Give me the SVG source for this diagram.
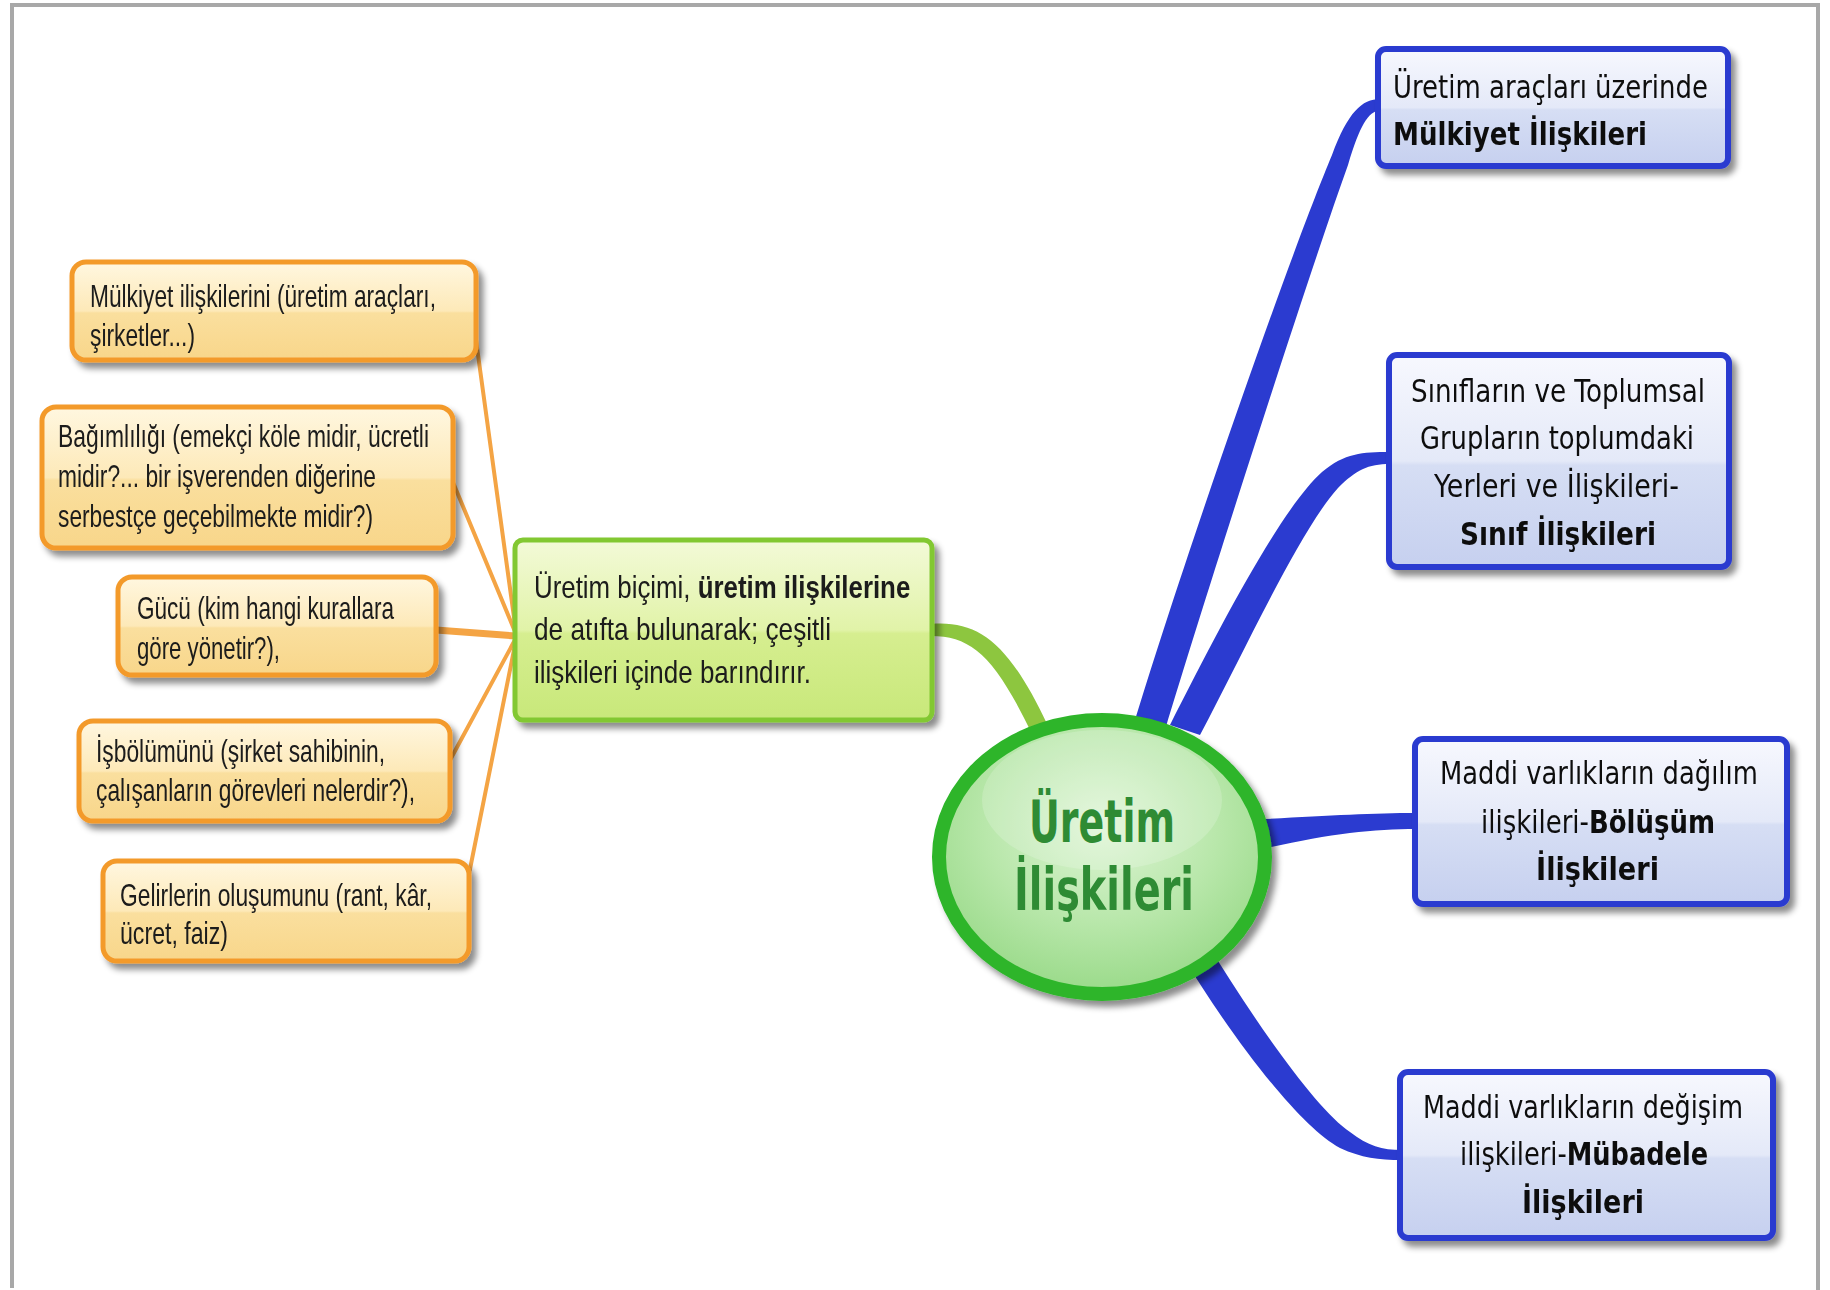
<svg xmlns="http://www.w3.org/2000/svg" width="1830" height="1290" viewBox="0 0 1830 1290">
<defs>
<linearGradient id="gOr" x1="0" y1="0" x2="0" y2="1">
<stop offset="0" stop-color="#FFF7E0"/><stop offset="0.5" stop-color="#FDE9B8"/><stop offset="0.52" stop-color="#FADF9E"/><stop offset="1" stop-color="#F8D68A"/>
</linearGradient>
<linearGradient id="gGr" x1="0" y1="0" x2="0" y2="1">
<stop offset="0" stop-color="#F3FAD8"/><stop offset="0.5" stop-color="#E1F3A8"/><stop offset="0.52" stop-color="#D6EE90"/><stop offset="1" stop-color="#C8E87A"/>
</linearGradient>
<linearGradient id="gBl" x1="0" y1="0" x2="0" y2="1">
<stop offset="0" stop-color="#F7F8FE"/><stop offset="0.5" stop-color="#E4E9F8"/><stop offset="0.52" stop-color="#D6DEF4"/><stop offset="1" stop-color="#C6D0EF"/>
</linearGradient>
<radialGradient id="gEl" cx="0.5" cy="0.38" r="0.6">
<stop offset="0" stop-color="#DFF5D6"/><stop offset="0.6" stop-color="#B8E7AA"/><stop offset="1" stop-color="#9CDB8C"/>
</radialGradient>
<filter id="sh" x="-10%" y="-10%" width="125%" height="130%">
<feDropShadow dx="5" dy="6" stdDeviation="3" flood-color="#000" flood-opacity="0.45"/>
</filter>
<style>
.or{fill:url(#gOr);stroke:#F39A2C;stroke-width:5}
.gr{fill:url(#gGr);stroke:#82C832;stroke-width:5}
.bl{fill:url(#gBl);stroke:#2B3BD0;stroke-width:6}
.to{font-family:"Liberation Sans",Arial,sans-serif;font-size:32px;fill:#1a1a1a}
.tb{font-family:"DejaVu Sans",Verdana,sans-serif;font-size:32px;fill:#111}
.b{font-weight:bold}
.ol{fill:none;stroke:#F4A444;stroke-linecap:round}
.bb{fill:#2B3BD0}
</style>
</defs>
<rect width="1830" height="1290" fill="#fff"/>
<g id="frame" stroke="#A8A8A8" stroke-width="4" fill="none">
<line x1="10" y1="5" x2="1820" y2="5"/>
<line x1="12" y1="5" x2="12" y2="1288"/>
<line x1="1818" y1="5" x2="1818" y2="1290"/>
</g>
<g id="connectors">
<line class="ol" stroke-width="4" x1="476" y1="340" x2="516" y2="632"/>
<line class="ol" stroke-width="4" x1="452" y1="480" x2="516" y2="634"/>
<line class="ol" stroke-width="7" x1="436" y1="630" x2="516" y2="636"/>
<line class="ol" stroke-width="4" x1="449" y1="762" x2="516" y2="638"/>
<line class="ol" stroke-width="4" x1="467" y1="884" x2="516" y2="640"/>
<path fill="#8DC63F" d="M931 624 C980 620 1010 645 1048 726 L1032 734 C995 657 972 636 931 636 Z"/>
<path class="bb" d="M1132 730 C1185 555 1290 255 1332 155 C1348 112 1362 99 1380 99 L1380 110 C1368 112 1360 125 1348 165 C1312 265 1215 565 1165 730 Z"/>
<path class="bb" d="M1170 725 C1218 630 1280 510 1322 472 C1345 453 1362 452 1390 452 L1390 464 C1368 464 1356 470 1338 488 C1300 530 1245 650 1200 735 Z"/>
<path class="bb" d="M1250 820 C1320 816 1370 813 1416 813 L1416 829 C1370 829 1320 835 1250 852 Z"/>
<path class="bb" d="M1207 943 C1262 1033 1318 1110 1350 1132 C1368 1146 1382 1150 1402 1150 L1402 1160 C1378 1160 1362 1158 1340 1148 C1302 1128 1238 1047 1183 957 Z"/>
</g>
<g id="center">
<ellipse cx="1102" cy="857" rx="163" ry="137" fill="url(#gEl)" stroke="#2DB52A" stroke-width="14" filter="url(#sh)"/>
<ellipse cx="1102" cy="800" rx="120" ry="70" fill="#fff" opacity="0.18"/>
<text x="1029" y="842" font-family="DejaVu Sans,Verdana,sans-serif" font-weight="bold" font-size="58" fill="#2E8B34" textLength="146" lengthAdjust="spacingAndGlyphs">Üretim</text>
<text x="1014" y="910" font-family="DejaVu Sans,Verdana,sans-serif" font-weight="bold" font-size="58" fill="#2E8B34" textLength="180" lengthAdjust="spacingAndGlyphs">İlişkileri</text>
</g>
<g id="o1" filter="url(#sh)">
<rect class="or" x="72" y="262" width="404" height="98" rx="14"/>
<text class="to" x="90" y="307" textLength="346" lengthAdjust="spacingAndGlyphs">Mülkiyet ilişkilerini (üretim araçları,</text>
<text class="to" x="90" y="346" textLength="105" lengthAdjust="spacingAndGlyphs">şirketler...)</text>
</g>
<g id="o2" filter="url(#sh)">
<rect class="or" x="42" y="407" width="411" height="141" rx="14"/>
<text class="to" x="58" y="447" textLength="371" lengthAdjust="spacingAndGlyphs">Bağımlılığı (emekçi köle midir, ücretli</text>
<text class="to" x="58" y="487" textLength="318" lengthAdjust="spacingAndGlyphs">midir?... bir işverenden diğerine</text>
<text class="to" x="58" y="527" textLength="315" lengthAdjust="spacingAndGlyphs">serbestçe geçebilmekte midir?)</text>
</g>
<g id="o3" filter="url(#sh)">
<rect class="or" x="118" y="577" width="318" height="98" rx="14"/>
<text class="to" x="137" y="619" textLength="257" lengthAdjust="spacingAndGlyphs">Gücü (kim hangi kurallara</text>
<text class="to" x="137" y="659" textLength="143" lengthAdjust="spacingAndGlyphs">göre yönetir?),</text>
</g>
<g id="o4" filter="url(#sh)">
<rect class="or" x="79" y="721" width="371" height="100" rx="14"/>
<text class="to" x="96" y="762" textLength="289" lengthAdjust="spacingAndGlyphs">İşbölümünü (şirket sahibinin,</text>
<text class="to" x="96" y="801" textLength="319" lengthAdjust="spacingAndGlyphs">çalışanların görevleri nelerdir?),</text>
</g>
<g id="o5" filter="url(#sh)">
<rect class="or" x="103" y="861" width="366" height="100" rx="14"/>
<text class="to" x="120" y="906" textLength="312" lengthAdjust="spacingAndGlyphs">Gelirlerin oluşumunu (rant, kâr,</text>
<text class="to" x="120" y="944" textLength="108" lengthAdjust="spacingAndGlyphs">ücret, faiz)</text>
</g>
<g id="green" filter="url(#sh)">
<rect class="gr" x="515" y="540" width="417" height="180" rx="8"/>
<text class="to" transform="translate(534,598) scale(0.808,1)" font-size="33">Üretim biçimi, <tspan class="b">üretim ilişkilerine</tspan></text>
<text class="to" x="534" y="640" font-size="33" textLength="297" lengthAdjust="spacingAndGlyphs">de atıfta bulunarak; çeşitli</text>
<text class="to" x="534" y="683" font-size="33" textLength="277" lengthAdjust="spacingAndGlyphs">ilişkileri içinde barındırır.</text>
</g>
<g id="b1" filter="url(#sh)">
<rect class="bl" x="1378" y="49" width="350" height="117" rx="8"/>
<text class="tb" x="1393" y="98" textLength="315" lengthAdjust="spacingAndGlyphs">Üretim araçları üzerinde</text>
<text class="tb b" x="1393" y="145" textLength="254" lengthAdjust="spacingAndGlyphs">Mülkiyet İlişkileri</text>
</g>
<g id="b2" filter="url(#sh)">
<rect class="bl" x="1389" y="355" width="340" height="212" rx="8"/>
<text class="tb" x="1411" y="402" textLength="294" lengthAdjust="spacingAndGlyphs">Sınıfların ve Toplumsal</text>
<text class="tb" x="1420" y="449" textLength="274" lengthAdjust="spacingAndGlyphs">Grupların toplumdaki</text>
<text class="tb" x="1434" y="497" textLength="245" lengthAdjust="spacingAndGlyphs">Yerleri ve İlişkileri-</text>
<text class="tb b" x="1460" y="545" textLength="196" lengthAdjust="spacingAndGlyphs">Sınıf İlişkileri</text>
</g>
<g id="b3" filter="url(#sh)">
<rect class="bl" x="1415" y="739" width="372" height="165" rx="8"/>
<text class="tb" transform="translate(1440,784) scale(0.807,1)">Maddi varlıkların dağılım</text>
<text class="tb" transform="translate(1481,833) scale(0.8125,1)">ilişkileri-<tspan class="b">Bölüşüm</tspan></text>
<text class="tb b" x="1536" y="880" textLength="123" lengthAdjust="spacingAndGlyphs">İlişkileri</text>
</g>
<g id="b4" filter="url(#sh)">
<rect class="bl" x="1400" y="1072" width="373" height="166" rx="8"/>
<text class="tb" x="1423" y="1118" textLength="320" lengthAdjust="spacingAndGlyphs">Maddi varlıkların değişim</text>
<text class="tb" transform="translate(1460,1165) scale(0.803,1)">ilişkileri-<tspan class="b">Mübadele</tspan></text>
<text class="tb b" x="1522" y="1213" textLength="122" lengthAdjust="spacingAndGlyphs">İlişkileri</text>
</g>
</svg>
